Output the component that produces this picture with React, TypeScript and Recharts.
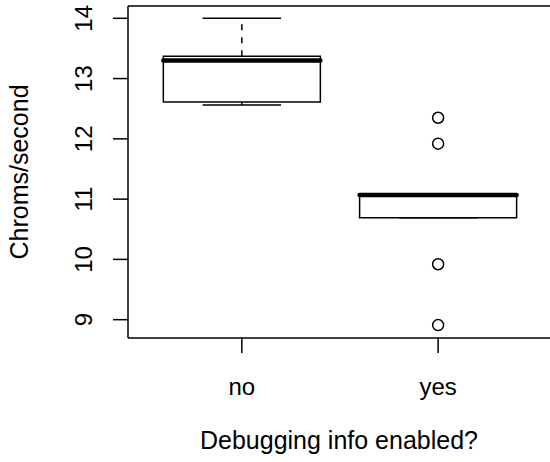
import {
  ComposedChart,
  ReferenceArea,
  ReferenceLine,
  Scatter,
  XAxis,
  YAxis,
} from 'recharts'

// Chroms/second with and without debugging info
const groups = ['no', 'yes']
const lowerWhisker = [12.56, 10.69]
const lowerQuartile = [12.61, 10.69]
const medians = [13.3, 11.07]
const upperQuartile = [13.37, 11.08]
const upperWhisker = [14.0, 11.08]

const outlierGroup = [2, 2, 2, 2]
const outlierValues = [12.35, 11.92, 9.92, 8.91]

const yTicks = [9, 10, 11, 12, 13, 14]

const outliers = outlierGroup.map((g, i) => ({ x: g, y: outlierValues[i] }))

const FONT = '"Liberation Sans", Arial, Helvetica, sans-serif'
const Y_MIN = 8.696
const Y_MAX = 14.204

const YTick = (props: any) => {
  const { x, y, payload } = props
  const bx = x - 21
  return (
    <text
      x={bx}
      y={y}
      transform={`rotate(-90, ${bx}, ${y})`}
      textAnchor='middle'
      fontSize={24}
      fontFamily={FONT}
      fill='#000'
    >
      {payload.value}
    </text>
  )
}

const XTick = (props: any) => {
  const { x, y, payload } = props
  return (
    <text
      x={x}
      y={y + 42}
      textAnchor='middle'
      fontSize={24}
      fontFamily={FONT}
      fill='#000'
    >
      {groups[payload.value - 1]}
    </text>
  )
}

export default function App() {
  return (
    <div style={{ position: 'absolute', left: 0, top: 0, background: '#fff' }}>
      <ComposedChart
        width={550}
        height={462}
        data={outliers}
        margin={{ top: 6, right: 0, bottom: 0, left: 0 }}
      >
        <XAxis
          dataKey='x'
          type='number'
          domain={[0.42, 2.57]}
          ticks={[1, 2]}
          allowDataOverflow
          height={124}
          tickSize={15}
          tickMargin={0}
          stroke='#000'
          strokeWidth={1.5}
          tick={<XTick />}
          label={{
            content: () => (
              <text
                x={339}
                y={449}
                textAnchor='middle'
                fontSize={25}
                fontFamily={FONT}
                fill='#000'
              >
                Debugging info enabled?
              </text>
            ),
          }}
        />
        <YAxis
          type='number'
          domain={[Y_MIN, Y_MAX]}
          ticks={yTicks}
          allowDataOverflow
          width={128}
          tickSize={15}
          tickMargin={0}
          stroke='#000'
          strokeWidth={1.5}
          tick={<YTick />}
          label={{
            content: () => (
              <text
                x={28}
                y={172}
                transform='rotate(-90, 28, 172)'
                textAnchor='middle'
                fontSize={25}
                fontFamily={FONT}
                fill='#000'
              >
                Chroms/second
              </text>
            ),
          }}
        />
        {/* top of the frame */}
        <ReferenceLine y={Y_MAX} stroke='#000' strokeWidth={1.5} />

        {groups.map((g, i) => {
          const c = i + 1
          return [
            <ReferenceLine
              key={`uw-${g}`}
              segment={[
                { x: c, y: upperQuartile[i] },
                { x: c, y: upperWhisker[i] },
              ]}
              stroke='#000'
              strokeWidth={1.5}
              strokeDasharray='6 7'
            />,
            <ReferenceLine
              key={`lw-${g}`}
              segment={[
                { x: c, y: lowerQuartile[i] },
                { x: c, y: lowerWhisker[i] },
              ]}
              stroke='#000'
              strokeWidth={1.5}
              strokeDasharray='6 7'
            />,
            <ReferenceLine
              key={`uc-${g}`}
              segment={[
                { x: c - 0.2, y: upperWhisker[i] },
                { x: c + 0.2, y: upperWhisker[i] },
              ]}
              stroke='#000'
              strokeWidth={1.5}
            />,
            <ReferenceLine
              key={`lc-${g}`}
              segment={[
                { x: c - 0.2, y: lowerWhisker[i] },
                { x: c + 0.2, y: lowerWhisker[i] },
              ]}
              stroke='#000'
              strokeWidth={1.5}
            />,
            <ReferenceArea
              key={`box-${g}`}
              x1={c - 0.4}
              x2={c + 0.4}
              y1={lowerQuartile[i]}
              y2={upperQuartile[i]}
              fill='none'
              fillOpacity={1}
              stroke='#000'
              strokeWidth={1.5}
            />,
            <ReferenceLine
              key={`med-${g}`}
              segment={[
                { x: c - 0.4, y: medians[i] },
                { x: c + 0.4, y: medians[i] },
              ]}
              stroke='#000'
              strokeWidth={4.5}
              strokeLinecap='round'
            />,
          ]
        })}

        <Scatter
          dataKey='y'
          isAnimationActive={false}
          shape={(p: any) => (
            <circle
              cx={p.cx}
              cy={p.cy}
              r={5.5}
              fill='none'
              stroke='#000'
              strokeWidth={1.5}
            />
          )}
        />
      </ComposedChart>
    </div>
  )
}
